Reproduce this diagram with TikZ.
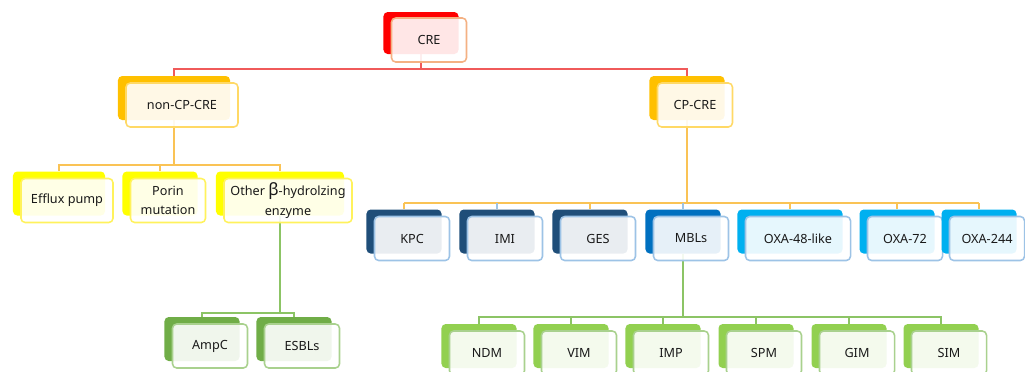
\documentclass[tikz,border=0pt]{standalone}
\usepackage{fontspec}
\setmainfont{Noto Sans}
\usepackage{xcolor}
\usepackage{tikz}
\usetikzlibrary{backgrounds}
\definecolor{crered}{HTML}{FF0000}
\definecolor{creedge}{HTML}{F4B183}
\definecolor{gold}{HTML}{FFC000}
\definecolor{goldedge}{HTML}{FFD966}
\definecolor{lemon}{HTML}{FFFF00}
\definecolor{lemonedge}{HTML}{FFF25C}
\definecolor{navy}{HTML}{1F4E79}
\definecolor{midblue}{HTML}{0070C0}
\definecolor{skyblue}{HTML}{00B0F0}
\definecolor{blueedge}{HTML}{9DC3E6}
\definecolor{leaf}{HTML}{70AD47}
\definecolor{lime}{HTML}{92D050}
\definecolor{greenedge}{HTML}{A9D18E}
\definecolor{redwire}{HTML}{F05A5A}
\definecolor{goldwire}{HTML}{FAC355}
\definecolor{greenwire}{HTML}{8CC465}
\tikzset{
  backbox/.style={rounded corners=3pt, minimum width=1.875cm, minimum height=1.1cm, fill=#1},
  frontbox/.style={draw=#1, line width=1.1pt, rounded corners=3pt, fill=white, fill opacity=0.9,
    text opacity=1, text=black!90, minimum width=1.875cm, minimum height=1.1cm, inner sep=2pt,
    align=center, font=\fontsize{9}{14}\selectfont, xshift=0.2cm, yshift=-0.175cm},
  link/.style={line width=1pt, draw=#1},
}
\begin{document}
\begin{tikzpicture}[x=0.025cm, y=-0.025cm]
  \useasboundingbox (0,0) rectangle (1025,371);
  % root
  \node[backbox=crered, minimum height=1.05cm] (cre) at (421,33) {};
  \node[frontbox=creedge] (cre-f) at (cre) {CRE};
  % first level
  \node[backbox=gold, minimum width=2.8cm] (noncp) at (174,98) {};
  \node[frontbox=goldedge, minimum width=2.8cm] (noncp-f) at (noncp) {non-CP-CRE};
  \node[backbox=gold] (cp) at (687,98) {};
  \node[frontbox=goldedge] (cp-f) at (cp) {CP-CRE};
  % non-CP-CRE branch
  \node[backbox=lemon, minimum width=2.3cm] (efflux) at (59,193.5) {};
  \node[frontbox=lemonedge, minimum width=2.3cm] (efflux-f) at (efflux) {Efflux pump};
  \node[backbox=lemon] (porin) at (160,193.5) {};
  \node[frontbox=lemonedge] (porin-f) at (porin) {Porin\\mutation};
  \node[backbox=lemon, minimum width=3.2cm] (other) at (280,193.5) {};
  \node[frontbox=lemonedge, minimum width=3.2cm] (other-f) at (other)
    {Other {\fontsize{12}{12}\selectfont\bfseries β}-hydrolzing\\enzyme};
  \node[backbox=leaf] (ampc) at (202,339) {};
  \node[frontbox=greenedge] (ampc-f) at (ampc) {AmpC};
  \node[backbox=leaf] (esbls) at (294,339) {};
  \node[frontbox=greenedge] (esbls-f) at (esbls) {ESBLs};
  % CP-CRE branch
  \node[backbox=navy] (kpc) at (404,231.5) {};
  \node[frontbox=blueedge] (kpc-f) at (kpc) {KPC};
  \node[backbox=navy] (imi) at (497,231.5) {};
  \node[frontbox=blueedge] (imi-f) at (imi) {IMI};
  \node[backbox=navy] (ges) at (590,231.5) {};
  \node[frontbox=blueedge] (ges-f) at (ges) {GES};
  \node[backbox=midblue] (mbls) at (683,231.5) {};
  \node[frontbox=blueedge] (mbls-f) at (mbls) {MBLs};
  \node[backbox=skyblue, minimum width=2.625cm] (oxa48) at (790,231.5) {};
  \node[frontbox=blueedge, minimum width=2.625cm] (oxa48-f) at (oxa48) {OXA-48-like};
  \node[backbox=skyblue] (oxa72) at (897,231.5) {};
  \node[frontbox=blueedge] (oxa72-f) at (oxa72) {OXA-72};
  \node[backbox=skyblue] (oxa244) at (979,231.5) {};
  \node[frontbox=blueedge] (oxa244-f) at (oxa244) {OXA-244};
  % MBLs
  \node[backbox=lime] (ndm) at (479,346) {};
  \node[frontbox=greenedge] (ndm-f) at (ndm) {NDM};
  \node[backbox=lime] (vim) at (571,346) {};
  \node[frontbox=greenedge] (vim-f) at (vim) {VIM};
  \node[backbox=lime] (imp) at (663,346) {};
  \node[frontbox=greenedge] (imp-f) at (imp) {IMP};
  \node[backbox=lime] (spm) at (756,346) {};
  \node[frontbox=greenedge] (spm-f) at (spm) {SPM};
  \node[backbox=lime] (gim) at (849,346) {};
  \node[frontbox=greenedge] (gim-f) at (gim) {GIM};
  \node[backbox=lime] (sim) at (941,346) {};
  \node[frontbox=greenedge] (sim-f) at (sim) {SIM};

  \begin{scope}[on background layer]
    \coordinate (crebus) at (421,69);
    \draw[link=redwire] (cre.south) -- (crebus) -| (noncp.north);
    \draw[link=redwire] (crebus) -| (cp.north);

    \coordinate (ncbus) at (174,165);
    \draw[link=goldwire] (noncp.south) -- (ncbus) -| (efflux.north);
    \draw[link=goldwire] (ncbus) -| (porin.north);
    \draw[link=goldwire] (ncbus) -| (other.north);

    \coordinate (otbus) at (280,313);
    \draw[link=greenwire] (other.south) -- (otbus) -| (ampc.north);
    \draw[link=greenwire] (otbus) -| (esbls.north);

    \coordinate (cpbus) at (687,203);
    \draw[link=goldwire] (cp.south) -- (cpbus);
    \draw[link=goldwire] (kpc.north |- cpbus) -- (oxa244.north |- cpbus);
    \draw[link=goldwire] (kpc.north |- cpbus) -- (kpc.north);
    \draw[link=blueedge] (imi.north |- cpbus) -- (imi.north);
    \draw[link=goldwire] (ges.north |- cpbus) -- (ges.north);
    \draw[link=blueedge] (mbls.north |- cpbus) -- (mbls.north);
    \draw[link=goldwire] (oxa48.north |- cpbus) -- (oxa48.north);
    \draw[link=goldwire] (oxa72.north |- cpbus) -- (oxa72.north);
    \draw[link=goldwire] (oxa244.north |- cpbus) -- (oxa244.north);

    \coordinate (mbbus) at (683,317);
    \draw[link=greenwire] (mbls.south) -- (mbbus) -| (ndm.north);
    \draw[link=greenwire] (mbbus) -| (vim.north);
    \draw[link=greenwire] (mbbus) -| (imp.north);
    \draw[link=greenwire] (mbbus) -| (spm.north);
    \draw[link=greenwire] (mbbus) -| (gim.north);
    \draw[link=greenwire] (mbbus) -| (sim.north);
  \end{scope}
\end{tikzpicture}
\end{document}
